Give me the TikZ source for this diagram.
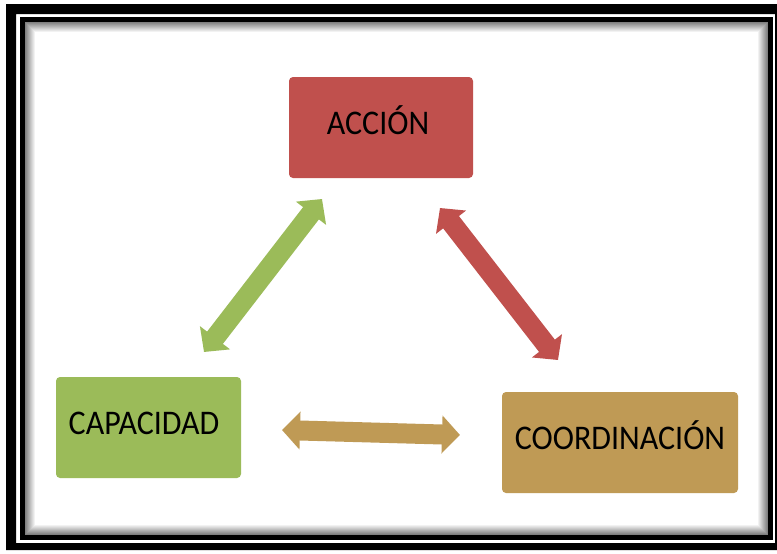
\documentclass[tikz,border=0pt]{standalone}
\usepackage{fontspec}
\usepackage{graphicx}
\setmainfont{Carlito}
\usetikzlibrary{arrows.meta}
\definecolor{redbox}{HTML}{C0504D}
\definecolor{greenbox}{HTML}{9BBB59}
\definecolor{tanbox}{HTML}{BF9A55}
\tikzset{
  box/.style={rounded corners=4pt, inner sep=0pt, minimum height=101pt,
    text height=22pt, text depth=9pt, text=black,
    font=\fontsize{32}{32}\selectfont},
  dblarrow/.style={line width=20pt,
    {Triangle[length=18pt,width=37pt]}-{Triangle[length=18pt,width=37pt]}},
}
\newcommand{\tall}[1]{\scalebox{1}[1.08]{#1}}
\begin{document}
\begin{tikzpicture}[x=1pt,y=-1pt]
  \useasboundingbox (0,0) rectangle (777,554);
  \fill[white] (0,0) rectangle (777,554);
  % heavy outer frame
  \fill[black, even odd rule] (6,4) rectangle (790,550) (16,14) rectangle (775,543);
  % inner frame line with a soft inner shadow
  \foreach \i in {1,...,11}{
    \pgfmathsetmacro{\g}{55-5*\i}
    \draw[black!\g, line width=1pt] (25+\i-0.5,22+\i-0.5) rectangle (768-\i+0.5,535-\i+0.5);
  }
  \draw[black, line width=5pt] (22.5,19.5) rectangle (770.5,537.5);

  % boxes
  \node[box, fill=redbox, minimum width=184pt] (accion) at (381,127.5) {\tall{ACCIÓN}\kern6pt};
  \node[box, fill=greenbox, minimum width=185pt] (capacidad) at (148.5,427.5) {\tall{CAPACIDAD}\kern9pt};
  \node[box, fill=tanbox, minimum width=236pt] (coord) at (620,442.5) {\tall{COORDINACIÓN}};

  % arrow end points
  \coordinate (g1) at (204,352);
  \coordinate (g2) at (322,199);
  \coordinate (r1) at (440,208);
  \coordinate (r2) at (558,360);
  \coordinate (t1) at (282,430);
  \coordinate (t2) at (460,435);

  \draw[dblarrow, greenbox] (g1) -- (g2);
  \draw[dblarrow, redbox] (r1) -- (r2);
  \draw[dblarrow, tanbox] (t1) -- (t2);
\end{tikzpicture}
\end{document}
